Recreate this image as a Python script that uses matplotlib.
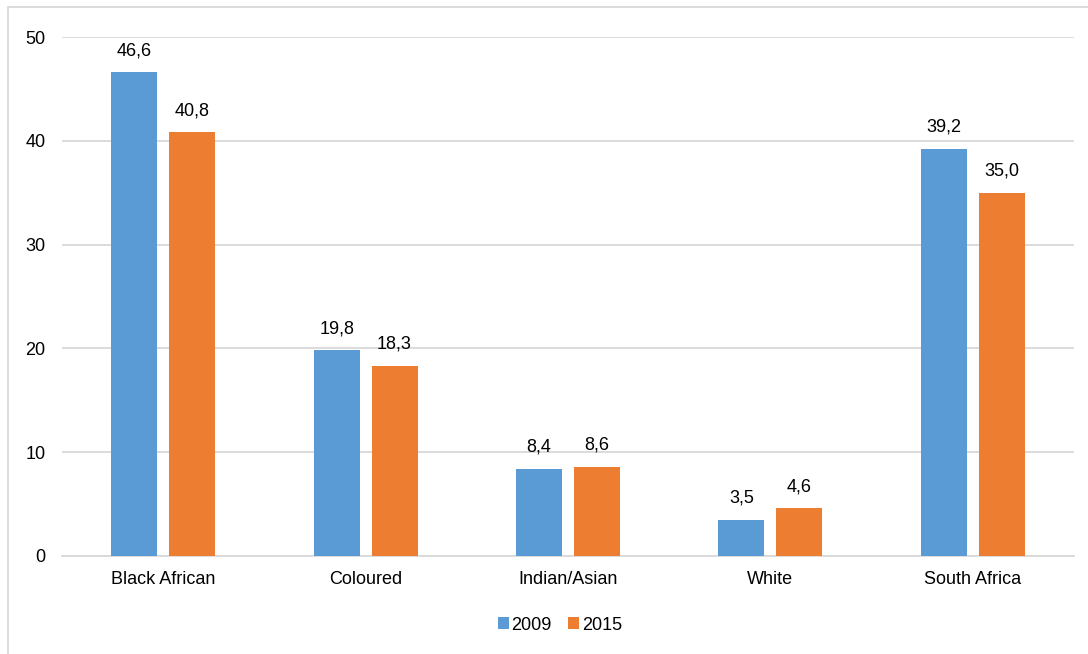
import matplotlib.pyplot as plt
import numpy as np
from matplotlib.patches import Rectangle

categories = ["Black African", "Coloured", "Indian/Asian", "White", "South Africa"]
years = ["2009", "2015"]
values_2009 = [46.6, 19.8, 8.4, 3.5, 39.2]
values_2015 = [40.8, 18.3, 8.6, 4.6, 35.0]
yticks = [0, 10, 20, 30, 40, 50]

BLUE = "#5B9BD5"
ORANGE = "#ED7D31"
GRID = "#D9D9D9"
FS = 13

plt.rcParams["font.family"] = ["Liberation Sans", "DejaVu Sans"]

W, H = 1088, 654
fig = plt.figure(figsize=(W / 100, H / 100), dpi=100)
ax = fig.add_axes([62 / W, 1 - 556 / H, (1074 - 62) / W, (556 - 37) / H])

# chart frame (runs off the right and bottom edge)
fig.patches.append(Rectangle((8 / W, -0.1), 1.2, 1 - 7 / H + 0.1, transform=fig.transFigure,
                             fill=False, edgecolor=GRID, lw=1.3))

x = np.arange(len(categories))
bw = 0.227
gap = 0.059
off = (bw + gap) / 2
b1 = ax.bar(x - off, values_2009, bw, color=BLUE, label=years[0], zorder=3)
b2 = ax.bar(x + off, values_2015, bw, color=ORANGE, label=years[1], zorder=3)

for bars, vals in ((b1, values_2009), (b2, values_2015)):
    for r, v in zip(bars, vals):
        ax.annotate(f"{v:.1f}".replace(".", ","), (r.get_x() + r.get_width() / 2, v),
                    xytext=(0, 9.5), textcoords="offset points", ha="center", va="bottom",
                    fontsize=FS, color="#000000")

ax.set_xlim(-0.5, len(categories) - 0.5)
ax.set_ylim(0, 50)
ax.set_yticks(yticks)
ax.set_yticklabels([str(t) for t in yticks])
ax.set_xticks(x)
ax.set_xticklabels(categories)
ax.tick_params(axis="both", length=0, labelsize=FS, colors="#000000")
ax.tick_params(axis="y", pad=12)
ax.tick_params(axis="x", pad=10.5)
ax.grid(axis="y", color=GRID, lw=1.3, zorder=0)
for s in ("top", "right", "left"):
    ax.spines[s].set_visible(False)
ax.spines["bottom"].set_color(GRID)
ax.spines["bottom"].set_linewidth(1.3)

fig.legend(handles=[b1, b2], labels=years, loc="center", bbox_to_anchor=(560 / W, 1 - 625 / H),
           ncol=2, frameon=False, fontsize=FS, handlelength=0.6, handleheight=0.6,
           handletextpad=0.15, columnspacing=0.9)

fig.savefig("out.png", dpi=100)
